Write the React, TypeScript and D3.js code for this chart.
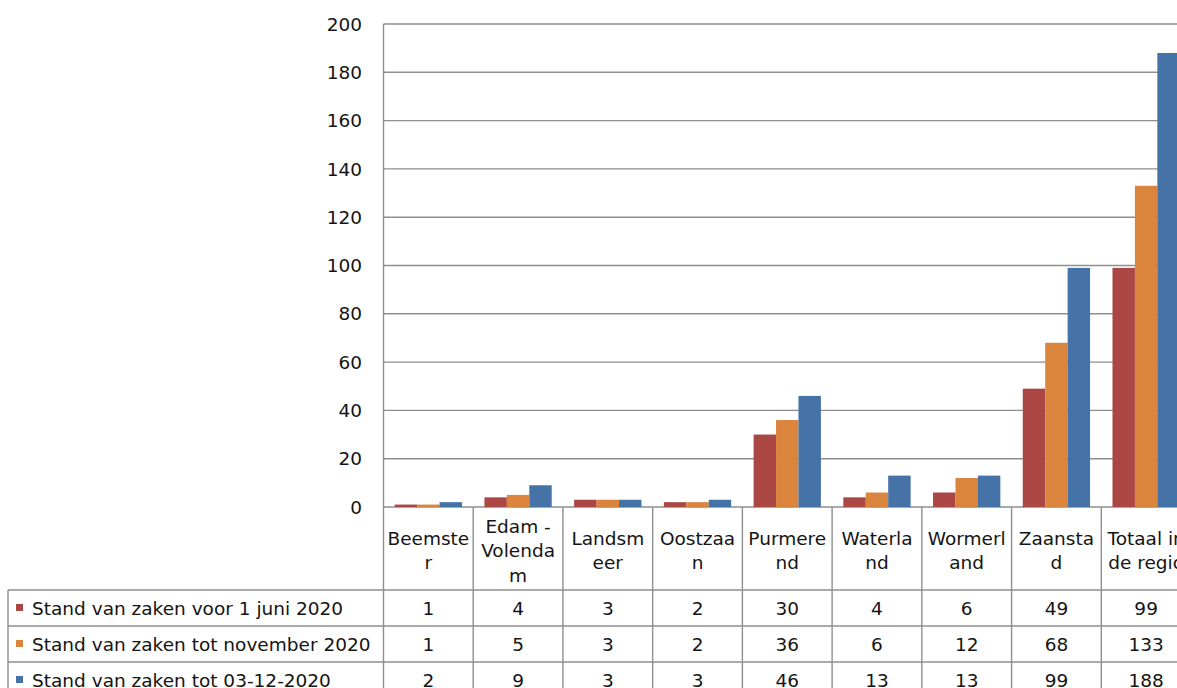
import React, { useEffect, useRef } from "react"
import * as d3 from "d3"

const categories = ["Beemster", "Edam-Volendam", "Landsmeer", "Oostzaan", "Purmerend", "Waterland", "Wormerland", "Zaanstad", "Totaal in de regio"]
// wrapped header labels as shown in the data table
const headerLines = [["Beemste", "r"], ["Edam -", "Volenda", "m"], ["Landsm", "eer"], ["Oostzaa", "n"], ["Purmere", "nd"], ["Waterla", "nd"], ["Wormerl", "and"], ["Zaansta", "d"], ["Totaal in", "de regio"]]
const seriesNames = ["Stand van zaken voor 1 juni 2020", "Stand van zaken tot november 2020", "Stand van zaken tot 03-12-2020"]
const voorJuni = [1, 4, 3, 2, 30, 4, 6, 49, 99]
const totNovember = [1, 5, 3, 2, 36, 6, 12, 68, 133]
const totDecember = [2, 9, 3, 3, 46, 13, 13, 99, 188]
const yTicks = [0, 20, 40, 60, 80, 100, 120, 140, 160, 180, 200]
const colors = ["#AA4643", "#DB843D", "#4572A7"]

const App = () => {
  const ref = useRef<SVGSVGElement>(null)

  useEffect(() => {
    const svg = d3.select(ref.current)
    svg.selectAll("*").remove()
    const values = [voorJuni, totNovember, totDecember]
    const left = 383.5
    const right = 1191
    const top = 24
    const zero = 507
    const rowTops = [590, 626, 662]
    const rowH = 36
    const bottom = 698
    const font = "DejaVu Sans, Verdana, sans-serif"
    const fs = 18.5
    const grid = "#8E8E8E"
    const ink = "#141414"

    const x = d3.scaleBand().domain(categories).range([left, right]).padding(0)
    const xs = d3.scaleBand().domain(["0", "1", "2"]).range([0, x.bandwidth()]).paddingInner(0).paddingOuter(0.5)
    const y = d3.scaleLinear().domain([0, 200]).range([zero, top])

    // gridlines + y labels
    const g = svg.append("g")
    g.selectAll("line.grid").data(yTicks).join("line")
      .attr("x1", left).attr("x2", right)
      .attr("y1", d => y(d)).attr("y2", d => y(d))
      .attr("stroke", grid).attr("stroke-width", 1.4)
    g.selectAll("text.tick").data(yTicks).join("text")
      .attr("x", 362).attr("y", d => y(d)).attr("dy", "0.36em")
      .attr("text-anchor", "end").attr("font-family", font).attr("font-size", fs)
      .attr("fill", ink).text(d => d)

    // bars
    values.forEach((vals, si) => {
      svg.append("g").selectAll("rect").data(vals).join("rect")
        .attr("x", (d, i) => x(categories[i])! + xs(String(si))!)
        .attr("width", xs.bandwidth())
        .attr("y", d => y(d))
        .attr("height", d => zero - y(d))
        .attr("fill", colors[si])
    })

    // table lines
    const t = svg.append("g").attr("stroke", grid).attr("stroke-width", 1.4)
    t.append("line").attr("x1", left).attr("x2", left).attr("y1", top).attr("y2", bottom)
    t.selectAll("line.v").data(categories).join("line")
      .attr("x1", d => x(d)! + x.bandwidth()).attr("x2", d => x(d)! + x.bandwidth())
      .attr("y1", zero).attr("y2", bottom)
    t.selectAll("line.h").data(rowTops).join("line")
      .attr("x1", 8).attr("x2", right).attr("y1", d => d).attr("y2", d => d)
    t.append("line").attr("x1", 8).attr("x2", 8).attr("y1", rowTops[0]).attr("y2", bottom)

    // header labels
    const hdr = svg.append("g").attr("font-family", font).attr("font-size", fs).attr("fill", ink).attr("text-anchor", "middle")
    headerLines.forEach((lines, i) => {
      const cx = x(categories[i])! + x.bandwidth() / 2
      lines.forEach((ln, j) => {
        hdr.append("text").attr("x", cx).attr("y", 557 + (j - (lines.length - 1) / 2) * 24.5).text(ln)
      })
    })

    // rows: legend + values
    const rows = svg.append("g").attr("font-family", font).attr("font-size", fs).attr("fill", ink)
    seriesNames.forEach((name, si) => {
      const cy = rowTops[si] + rowH / 2
      rows.append("rect").attr("x", 16).attr("y", cy - 4).attr("width", 7).attr("height", 7).attr("fill", colors[si])
      rows.append("text").attr("x", 32).attr("y", cy).attr("dy", "0.36em").text(name)
      rows.selectAll(null).data(values[si]).join("text")
        .attr("x", (d, i) => x(categories[i])! + x.bandwidth() / 2)
        .attr("y", cy).attr("dy", "0.36em").attr("text-anchor", "middle")
        .text(d => d)
    })
  }, [])

  return (
    <svg ref={ref} width={1177} height={688}
      style={{ position: "absolute", left: 0, top: 0, background: "#fff", overflow: "hidden" }} />
  )
}

export default App
